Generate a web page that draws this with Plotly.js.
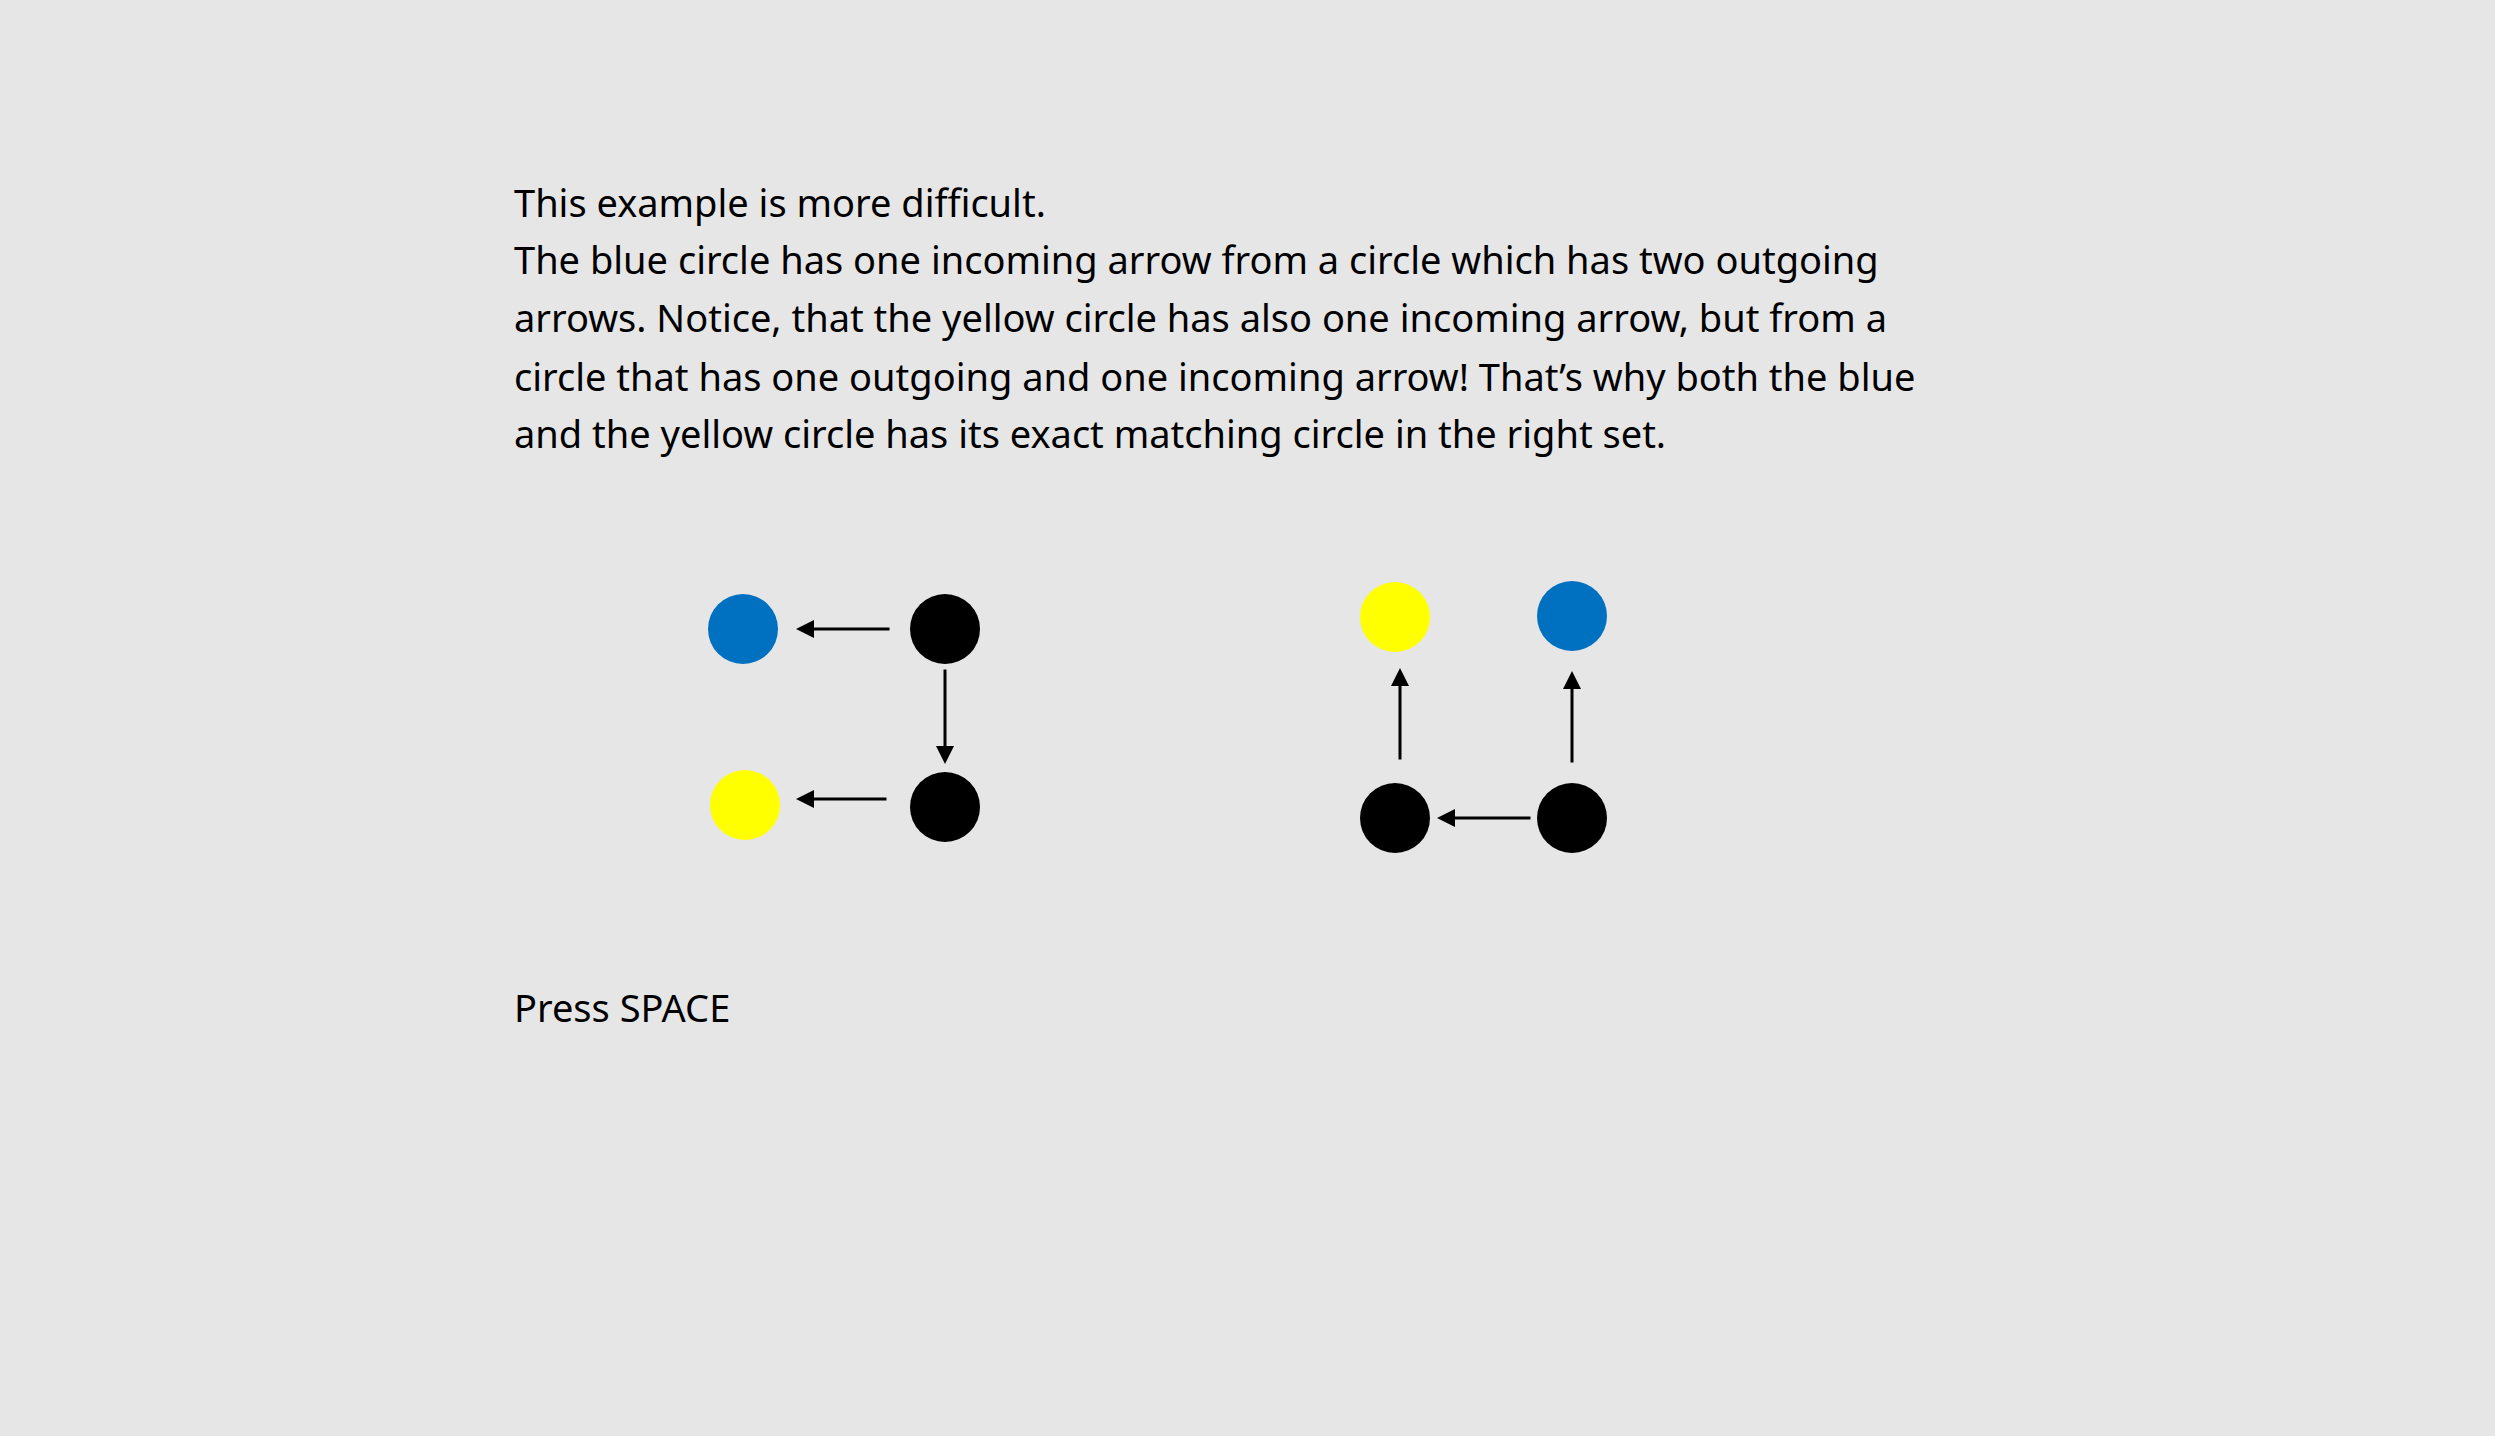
<!DOCTYPE html>
<html>
<head>
<meta charset="utf-8">
<script src="https://cdn.plot.ly/plotly-3.0.1.min.js"></script>
<style>html,body{margin:0;padding:0;background:#e6e6e6;}</style>
</head>
<body>
<div id="chart" style="width:2495px;height:1436px;"></div>
<script>
const textLines = [
  'This example is more difficult.',
  'The blue circle has one incoming arrow from a circle which has two outgoing',
  'arrows. Notice, that the yellow circle has also one incoming arrow, but from a',
  'circle that has one outgoing and one incoming arrow! That\u2019s why both the blue',
  'and the yellow circle has its exact matching circle in the right set.'
];
const textY = [202, 259, 317, 376, 433];
const footer = 'Press SPACE';

const nodeX = [743, 945, 745, 945, 1395, 1572, 1395, 1572];
const nodeY = [629, 629, 805, 807, 617, 616, 818, 818];
const nodeColor = ['#0070c0', '#000000', '#ffff00', '#000000', '#ffff00', '#0070c0', '#000000', '#000000'];

// arrows: tail x, tail y, head x, head y
const arrowTailX = [891, 945, 888, 1400, 1572, 1532];
const arrowTailY = [629, 668, 799, 761, 764, 818];
const arrowHeadX = [796, 945, 796, 1400, 1572, 1437];
const arrowHeadY = [629, 764, 799, 668, 671, 818];

const annotations = [];
for (let i = 0; i < textLines.length; i++) {
  annotations.push({x: 512, y: textY[i], xref: 'x', yref: 'y', text: textLines[i],
    showarrow: false, xanchor: 'left', yanchor: 'middle',
    font: {family: 'Noto Sans', size: 38, color: '#000'}});
}
annotations.push({x: 512, y: 1007, xref: 'x', yref: 'y', text: footer,
  showarrow: false, xanchor: 'left', yanchor: 'middle',
  font: {family: 'Noto Sans', size: 38, color: '#000'}});
for (let i = 0; i < arrowTailX.length; i++) {
  annotations.push({x: arrowHeadX[i], y: arrowHeadY[i], ax: arrowTailX[i], ay: arrowTailY[i],
    xref: 'x', yref: 'y', axref: 'x', ayref: 'y', text: '', showarrow: true,
    arrowhead: 2, arrowsize: 1.2, arrowwidth: 3, arrowcolor: '#000'});
}

const trace = {
  x: nodeX, y: nodeY, mode: 'markers', type: 'scatter', hoverinfo: 'none',
  marker: {size: 70, color: nodeColor, line: {width: 0}}
};

const layout = {
  width: 2495, height: 1436,
  margin: {l: 0, r: 0, t: 0, b: 0},
  paper_bgcolor: '#e6e6e6', plot_bgcolor: '#e6e6e6',
  xaxis: {range: [0, 2495], visible: false, fixedrange: true},
  yaxis: {range: [1436, 0], visible: false, fixedrange: true},
  showlegend: false,
  annotations: annotations
};

Plotly.newPlot('chart', [trace], layout, {displayModeBar: false, staticPlot: true});
</script>
</body>
</html>
